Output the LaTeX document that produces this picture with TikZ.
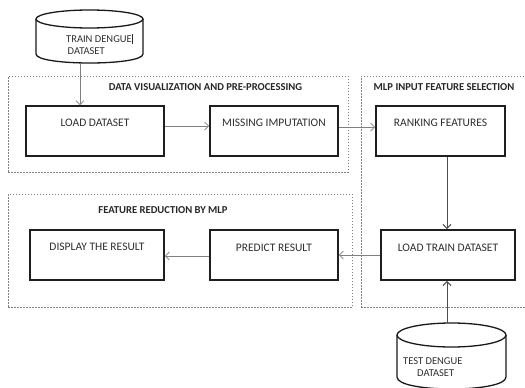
\documentclass[tikz,border=0pt]{standalone}
\usepackage{fontspec}
\setmainfont{Carlito}
\usetikzlibrary{arrows.meta}
\begin{document}
\begin{tikzpicture}[x=1pt,y=-1pt,
  box/.style={draw=black!88, line width=1.7pt, inner sep=0pt, minimum height=50pt},
  grp/.style={draw=black!50, line width=0.8pt, dash pattern=on 1.6pt off 1.4pt, inner sep=0pt, anchor=north west},
  ttl/.style={font=\fontsize{10.6}{12}\selectfont\bfseries, text=black!85, inner sep=0pt},
  txt/.style={font=\fontsize{11.5}{13}\selectfont, text=black!82, inner sep=0pt},
  ctxt/.style={font=\fontsize{10.5}{12.5}\selectfont, text=black!82, inner sep=0pt, align=left, anchor=north west},
  cyl/.style={draw=black!90, line width=1.3pt},
  arr/.style={draw=black!50, line width=0.8pt, -{Straight Barb[length=4pt,width=8pt]}},
  varr/.style={draw=black!70, line width=1pt, -{Straight Barb[length=4pt,width=8pt]}}
]
\useasboundingbox (0,0) rectangle (525,388);
\clip (0,0) rectangle (525,388);

% group boxes
\node[grp, minimum width=340pt, minimum height=96pt] (g1) at (8,76) {};
\node[grp, minimum width=164pt, minimum height=231pt] (g2) at (361,76) {};
\node[grp, minimum width=344pt, minimum height=113pt] (g3) at (8,194) {};
\node[ttl] (t1) at (205.5,87) {DATA VISUALIZATION AND PRE-PROCESSING};
\node[ttl] (t2) at (444,87) {MLP INPUT FEATURE SELECTION};
\node[ttl] (t3) at (163,210) {FEATURE REDUCTION BY MLP};

% process boxes
\node[box, minimum width=138pt, label={[txt,anchor=center,yshift=-18pt]north:LOAD DATASET}] (load) at (95,131) {};
\node[box, minimum width=128pt, label={[txt,anchor=center,yshift=-18pt]north:MISSING IMPUTATION}] (miss) at (274,131) {};
\node[box, minimum width=129pt, label={[txt,anchor=center,yshift=-18pt]north:RANKING FEATURES}] (rank) at (440.5,131) {};
\node[box, minimum width=134pt, label={[txt,anchor=center,yshift=-19pt]north:LOAD TRAIN DATASET}] (ltrain) at (448,255) {};
\node[box, minimum width=128pt, label={[txt,anchor=center,yshift=-19pt]north:PREDICT RESULT}] (pred) at (274,255) {};
\node[box, minimum width=134pt, label={[txt,anchor=center,yshift=-18pt]north:DISPLAY THE RESULT}] (disp) at (97,255) {};

% top cylinder
\draw[cyl] (36,19) -- (36,54) .. controls (36,66) and (143,66) .. (143,54) -- (143,19);
\draw[cyl] (89.5,19) ellipse [x radius=53.5, y radius=9];
\node[ctxt] (train) at (66,34) {TRAIN DENGUE\rule[-1.5pt]{0.5pt}{10pt}\\[-1pt]\hspace{1.5pt}DATASET};
\coordinate (trainbot) at (80,63);

% bottom cylinder
\draw[cyl] (397,335) -- (397,377) .. controls (397,393) and (506,393) .. (506,377) -- (506,335);
\draw[cyl] (451.5,335) ellipse [x radius=54.5, y radius=12];
\node[ctxt] (test) at (403,357) {TEST DENGUE\\[0pt]\hspace{14pt}DATASET};
\coordinate (testtop) at (447,323);

% connectors
\draw[arr] (trainbot) -- (trainbot |- load.north);
\draw[arr] ([yshift=5pt]load.east) -- ([yshift=5pt]miss.west);
\draw[arr] ([yshift=4pt]miss.east) -- ([yshift=4pt]rank.west);
\draw[varr] ([xshift=6.5pt]rank.south) -- ([xshift=-1pt]ltrain.north);
\draw[arr] (ltrain.west) -- (pred.east);
\draw[arr] ([yshift=-1pt]pred.west) -- ([yshift=-1pt]disp.east);
\draw[varr] (testtop) -- (testtop |- ltrain.south);
\end{tikzpicture}
\end{document}
